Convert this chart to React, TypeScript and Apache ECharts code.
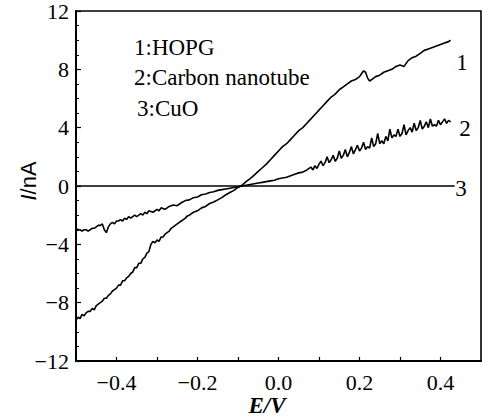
import React, { useEffect, useRef } from "react";
import * as echarts from "echarts";

const xTickLabels = ["−0.4", "−0.2", "0.0", "0.2", "0.4"];
const yTickLabels = ["−12", "−8", "−4", "0", "4", "8", "12"];
const legendLines = ["1:HOPG", "2:Carbon nanotube", "3:CuO"];
const curveTags = ["1", "2", "3"];

const hopg: number[][] = [
  [-0.5, -9.2], [-0.495, -9.0], [-0.49, -9.1], [-0.485, -8.8], [-0.48, -8.9], [-0.475, -8.7],
  [-0.47, -8.6], [-0.465, -8.6], [-0.46, -8.4], [-0.455, -8.5], [-0.45, -8.2], [-0.445, -8.1],
  [-0.44, -8.0], [-0.435, -7.9], [-0.43, -7.7], [-0.425, -7.7], [-0.42, -7.5], [-0.415, -7.4],
  [-0.41, -7.2], [-0.405, -7.1], [-0.4, -7.0], [-0.395, -6.8], [-0.39, -6.8], [-0.385, -6.5],
  [-0.38, -6.5], [-0.375, -6.3], [-0.37, -6.2], [-0.365, -6.0], [-0.36, -5.9], [-0.355, -5.6],
  [-0.35, -5.6], [-0.345, -5.3], [-0.34, -5.3], [-0.335, -5.0], [-0.33, -4.9], [-0.325, -4.6],
  [-0.32, -4.5], [-0.315, -4.0], [-0.31, -3.8], [-0.305, -3.9], [-0.3, -3.7], [-0.295, -3.8],
  [-0.29, -3.5], [-0.285, -3.5], [-0.28, -3.3], [-0.275, -3.2], [-0.27, -3.1], [-0.265, -2.9],
  [-0.26, -2.8], [-0.255, -2.7], [-0.25, -2.6], [-0.245, -2.5], [-0.24, -2.4], [-0.235, -2.3],
  [-0.23, -2.2], [-0.225, -2.05], [-0.22, -2.0], [-0.21, -1.8], [-0.2, -1.7], [-0.19, -1.5],
  [-0.18, -1.4], [-0.17, -1.2], [-0.16, -1.1], [-0.15, -0.95], [-0.14, -0.8], [-0.13, -0.6],
  [-0.12, -0.45], [-0.11, -0.3], [-0.1, -0.1], [-0.09, 0.05], [-0.08, 0.3], [-0.07, 0.5],
  [-0.06, 0.75], [-0.05, 1.0], [-0.04, 1.25], [-0.03, 1.5], [-0.02, 1.8], [-0.01, 2.1],
  [0.0, 2.4], [0.01, 2.7], [0.02, 2.9], [0.03, 3.2], [0.04, 3.5], [0.05, 3.8], [0.06, 4.0],
  [0.07, 4.3], [0.08, 4.6], [0.09, 4.9], [0.1, 5.2], [0.11, 5.5], [0.12, 5.8], [0.13, 6.1],
  [0.14, 6.3], [0.15, 6.6], [0.16, 6.8], [0.17, 7.0], [0.18, 7.2], [0.19, 7.3], [0.2, 7.5],
  [0.205, 7.7], [0.21, 7.9], [0.215, 7.8], [0.22, 7.4], [0.225, 7.2], [0.23, 7.3], [0.24, 7.5],
  [0.25, 7.6], [0.26, 7.8], [0.27, 7.9], [0.28, 8.0], [0.29, 8.2], [0.3, 8.3], [0.31, 8.2],
  [0.32, 8.6], [0.33, 8.8], [0.34, 8.9], [0.35, 9.1], [0.36, 9.3], [0.37, 9.4], [0.38, 9.5],
  [0.39, 9.6], [0.4, 9.7], [0.41, 9.8], [0.42, 9.9], [0.425, 10.0],
];

const nanotube: number[][] = [
  [-0.5, -2.9], [-0.495, -3.0], [-0.49, -3.0], [-0.485, -3.1], [-0.48, -3.0], [-0.475, -3.0],
  [-0.47, -3.1], [-0.465, -3.0], [-0.46, -2.9], [-0.455, -2.9], [-0.45, -2.8], [-0.445, -2.7],
  [-0.44, -2.7], [-0.435, -2.6], [-0.43, -3.0], [-0.425, -3.2], [-0.42, -2.8], [-0.415, -2.6],
  [-0.41, -2.5], [-0.405, -2.6], [-0.4, -2.4], [-0.395, -2.4], [-0.39, -2.3], [-0.385, -2.4],
  [-0.38, -2.2], [-0.375, -2.3], [-0.37, -2.1], [-0.365, -2.2], [-0.36, -2.1], [-0.355, -2.0],
  [-0.35, -2.1], [-0.345, -2.0], [-0.34, -1.9], [-0.335, -2.0], [-0.33, -1.8], [-0.325, -1.9],
  [-0.32, -1.7], [-0.31, -1.8], [-0.3, -1.6], [-0.295, -1.7], [-0.29, -1.5], [-0.28, -1.6],
  [-0.27, -1.4], [-0.26, -1.3], [-0.25, -1.35], [-0.24, -1.15], [-0.23, -1.0], [-0.22, -0.95],
  [-0.21, -0.8], [-0.2, -0.75], [-0.19, -0.6], [-0.18, -0.55], [-0.17, -0.45], [-0.16, -0.4],
  [-0.15, -0.3], [-0.14, -0.25], [-0.13, -0.2], [-0.12, -0.15], [-0.11, -0.1], [-0.1, -0.05],
  [-0.09, 0.0], [-0.08, 0.05], [-0.07, 0.1], [-0.06, 0.15], [-0.05, 0.2], [-0.04, 0.25],
  [-0.03, 0.3], [-0.02, 0.35], [-0.01, 0.4], [0.0, 0.5], [0.01, 0.55], [0.02, 0.6], [0.03, 0.7],
  [0.04, 0.8], [0.05, 0.9], [0.06, 0.95], [0.07, 1.1], [0.08, 1.3], [0.085, 1.1], [0.09, 1.4],
  [0.095, 1.2], [0.1, 1.5], [0.105, 1.7], [0.11, 1.4], [0.115, 1.6], [0.12, 2.0], [0.125, 1.6],
  [0.13, 1.8], [0.135, 2.1], [0.14, 1.7], [0.145, 1.9], [0.15, 2.4], [0.155, 1.9], [0.16, 2.1],
  [0.165, 2.5], [0.17, 2.0], [0.175, 2.3], [0.18, 2.7], [0.185, 2.2], [0.19, 2.5], [0.195, 2.8],
  [0.2, 2.4], [0.205, 2.6], [0.21, 3.0], [0.215, 2.5], [0.22, 2.7], [0.225, 2.6], [0.23, 3.3],
  [0.235, 2.7], [0.24, 2.9], [0.245, 3.6], [0.25, 2.9], [0.255, 3.1], [0.26, 2.9], [0.265, 3.4],
  [0.27, 3.1], [0.275, 3.9], [0.28, 3.3], [0.285, 3.5], [0.29, 3.4], [0.295, 3.9], [0.3, 3.4],
  [0.305, 3.6], [0.31, 4.2], [0.315, 3.5], [0.32, 3.8], [0.325, 4.0], [0.33, 3.7], [0.335, 4.3],
  [0.34, 3.8], [0.345, 4.0], [0.35, 4.5], [0.355, 3.9], [0.36, 4.1], [0.365, 4.4], [0.37, 4.0],
  [0.375, 4.6], [0.38, 4.1], [0.385, 4.2], [0.39, 4.1], [0.395, 4.5], [0.4, 4.2], [0.405, 4.4],
  [0.41, 4.6], [0.415, 4.3], [0.42, 4.5], [0.425, 4.4],
];

const cuo: number[][] = [
  [-0.5, 0], [0.435, 0],
];

const SERIF = "'Liberation Serif', 'Times New Roman', serif";
const SANS = "'Liberation Sans', Arial, sans-serif";

export default function App() {
  const ref = useRef<HTMLDivElement>(null);

  useEffect(() => {
    if (!ref.current) return;
    const chart = echarts.init(ref.current, null, { renderer: "svg" });
    const lineStyle = { color: "#000", width: 1.6 };
    const fmtX = (v: number) => {
      const r = Math.round(v * 10) / 10;
      const s = r.toFixed(1);
      const lab = r < 0 ? "−" + s.slice(1) : s;
      return xTickLabels.includes(lab) ? lab : "";
    };
    const fmtY = (v: number) => {
      const lab = v < 0 ? "−" + String(-v) : String(v);
      return yTickLabels.includes(lab) ? lab : "";
    };
    const txt = (text: string, x: number, y: number, align = "left") => ({
      type: "text",
      x,
      y,
      style: { text, font: `23px ${SERIF}`, fill: "#000", align, verticalAlign: "middle" },
    });
    chart.setOption({
      animation: false,
      backgroundColor: "#fff",
      grid: {
        left: 76,
        right: 6,
        top: 11,
        bottom: 59,
        show: true,
        borderColor: "#000",
        borderWidth: 1.6,
      },
      xAxis: {
        type: "value",
        min: -0.5,
        max: 0.5,
        interval: 0.1,
        axisLine: { show: true, onZero: false, lineStyle: { color: "#000", width: 2 } },
        axisTick: { show: true, inside: true, length: 4, lineStyle: { color: "#000", width: 1.2 } },
        splitLine: { show: false },
        axisLabel: {
          formatter: fmtX,
          color: "#000",
          fontFamily: SERIF,
          fontSize: 22,
          margin: 10,
          showMinLabel: false,
          showMaxLabel: false,
        },
      },
      yAxis: {
        type: "value",
        min: -12,
        max: 12,
        interval: 4,
        axisLine: { show: true, onZero: false, lineStyle: { color: "#000", width: 2 } },
        axisTick: { show: true, inside: true, length: 5, lineStyle: { color: "#000", width: 1.2 } },
        minorTick: { show: true, splitNumber: 4, length: 3, lineStyle: { color: "#000", width: 1 } },
        splitLine: { show: false },
        axisLabel: {
          formatter: fmtY,
          color: "#000",
          fontFamily: SERIF,
          fontSize: 22,
          margin: 7,
        },
      },
      series: [
        { name: "HOPG", type: "line", data: hopg, showSymbol: false, lineStyle, z: 3 },
        { name: "Carbon nanotube", type: "line", data: nanotube, showSymbol: false, lineStyle, z: 3 },
        { name: "CuO", type: "line", data: cuo, showSymbol: false, lineStyle, z: 3 },
      ],
      graphic: [
        txt(legendLines[0], 134, 47),
        txt(legendLines[1], 134, 77),
        txt(legendLines[2], 137, 108),
        txt(curveTags[0], 462, 62, "center"),
        txt(curveTags[1], 465, 128, "center"),
        txt(curveTags[2], 461, 188, "center"),
        {
          type: "text",
          x: 267,
          y: 405,
          style: {
            text: "E/V",
            font: `italic bold 23px ${SERIF}`,
            fill: "#000",
            align: "center",
            verticalAlign: "middle",
          },
        },
        {
          type: "text",
          x: 28,
          y: 181,
          rotation: Math.PI / 2,
          style: {
            text: "{i|I}/nA",
            font: `22px ${SANS}`,
            fill: "#000",
            align: "center",
            verticalAlign: "middle",
            rich: {
              i: { fontFamily: SANS, fontStyle: "italic", fontSize: 22, fill: "#000" },
            },
          },
        },
      ],
    });
    return () => chart.dispose();
  }, []);

  return (
    <div
      ref={ref}
      style={{ position: "absolute", left: 0, top: 0, width: 487, height: 420 }}
    />
  );
}
